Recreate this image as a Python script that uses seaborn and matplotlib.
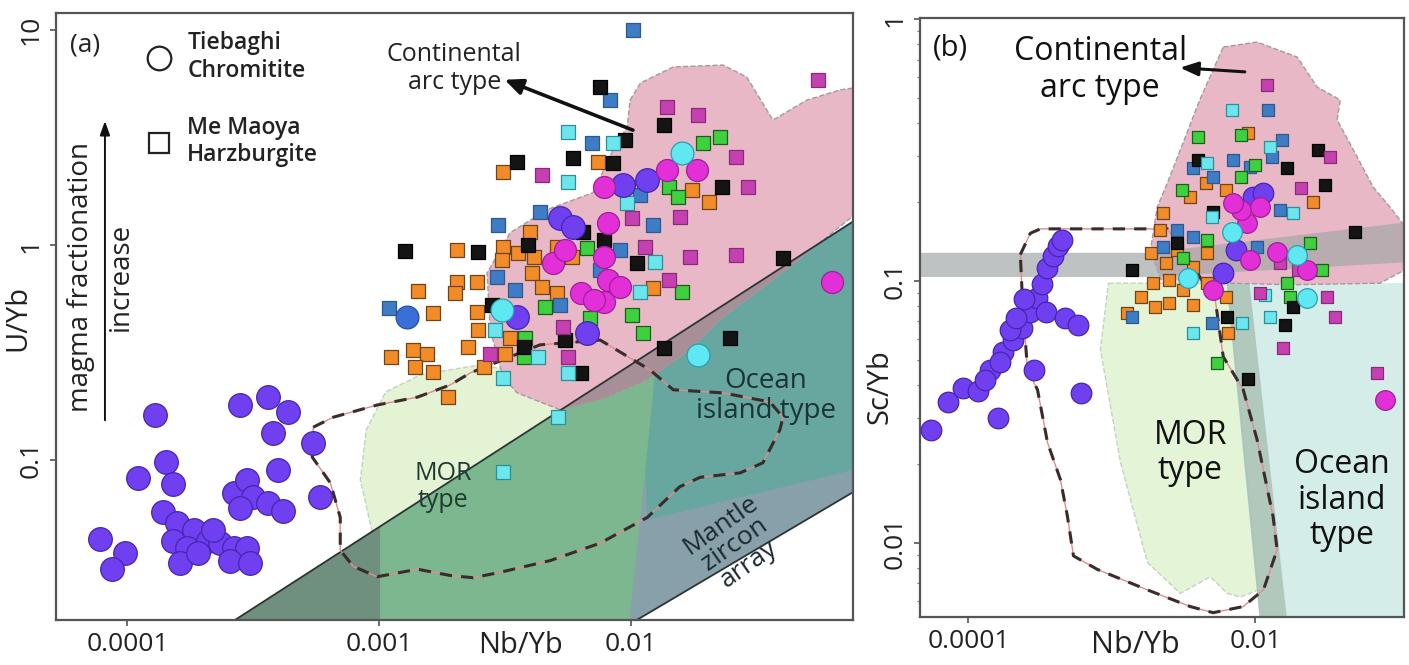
import numpy as np
import pandas as pd
import matplotlib
matplotlib.use("Agg")
import matplotlib.pyplot as plt
from matplotlib.patches import Polygon
from matplotlib.lines import Line2D
import seaborn as sns

sns.set_theme(style="white")
plt.rcParams["font.family"] = ["Open Sans", "DejaVu Sans"]

# ------------------------------------------------------------------
# (a) U/Yb vs Nb/Yb
# ------------------------------------------------------------------
a_purple_nb = [1.29e-4, 2.81e-4, 3.63e-4, 4.35e-4, 3.80e-4, 5.47e-4, 1.42e-4, 1.10e-4, 1.51e-4,
               3.97e-4, 5.83e-4, 2.64e-4, 2.99e-4, 3.16e-4, 2.81e-4, 3.60e-4, 4.16e-4, 1.39e-4,
               1.58e-4, 1.83e-4, 1.52e-4, 1.73e-4, 2.08e-4, 2.34e-4, 2.64e-4, 2.99e-4, 2.56e-4,
               3.08e-4, 1.62e-4, 1.90e-4, 7.8e-5, 9.8e-5, 8.7e-5, 2.19e-4,
               5.2e-3, 9.3e-3, 6.7e-3, 3.52e-3, 1.16e-2, 5.9e-3]
a_purple_u = [0.162, 0.180, 0.196, 0.167, 0.134, 0.120, 0.098, 0.082, 0.077,
              0.090, 0.067, 0.070, 0.081, 0.067, 0.060, 0.063, 0.058, 0.057,
              0.051, 0.047, 0.042, 0.039, 0.042, 0.041, 0.039, 0.039, 0.034,
              0.033, 0.033, 0.037, 0.043, 0.037, 0.031, 0.047,
              1.34, 1.90, 0.39, 0.46, 2.0, 1.21]

a_bluec_nb = [1.29e-3]
a_bluec_u = [0.46]

a_black_nb = [1.27e-3, 2.47e-3, 3.52e-3, 5.9e-3, 9.45e-3, 8.5e-3, 6.45e-3, 7.8e-3, 1.06e-2, 5.45e-3,
              6.3e-3, 3.74e-3, 2.8e-3, 3.9e-3, 7.5e-3, 1.35e-2, 2.30e-2, 4.0e-2, 1.35e-2, 2.47e-2]
a_black_u = [0.94, 0.93, 2.42, 2.53, 3.08, 2.40, 1.15, 1.05, 0.825, 0.36,
             0.254, 0.336, 0.526, 1.0, 5.43, 3.61, 1.86, 0.87, 0.33, 0.37]

a_orange_nb = [3.1e-3, 7.4e-3, 2.04e-3, 3.1e-3, 3.07e-3, 3.55e-3, 4.1e-3, 4.05e-3, 5.07e-3, 5.85e-3,
               4.44e-3, 5.1e-3, 3.97e-3, 1.43e-3, 2.04e-3, 2.44e-3, 2.0e-3, 1.64e-3, 2.44e-3, 2.47e-3,
               2.25e-3, 3.31e-3, 3.15e-3, 1.11e-3, 1.36e-3, 1.55e-3, 1.39e-3, 1.64e-3, 2.6e-3, 1.88e-3,
               1.22e-2, 1.75e-2, 2.04e-2]
a_orange_u = [2.18, 2.43, 0.95, 0.98, 0.85, 0.92, 0.88, 0.74, 0.98, 0.88,
              0.64, 0.60, 1.15, 0.61, 0.67, 0.67, 0.60, 0.48, 0.49, 0.40,
              0.336, 0.37, 0.31, 0.30, 0.325, 0.31, 0.27, 0.256, 0.27, 0.197,
              0.63, 1.80, 1.58]

a_blue_nb = [1.02e-2, 8.25e-3, 7.0e-3, 2.96e-3, 4.35e-3, 2.93e-3, 1.09e-3, 1.22e-2, 1.09e-2,
             3.45e-3, 5.2e-3, 7.55e-3, 9.0e-3]
a_blue_u = [10.0, 4.72, 2.98, 1.24, 1.42, 0.71, 0.51, 1.24, 1.71, 0.62, 0.526, 0.765, 0.95]

a_cyan_nb = [5.6e-3, 5.6e-3, 2.88e-3, 4.27e-3, 5.6e-3, 3.1e-3, 5.12e-3, 3.1e-3, 1.09e-2, 1.25e-2,
             9.6e-3, 8.5e-3]
a_cyan_u = [3.36, 1.96, 0.40, 0.30, 0.254, 0.24, 0.158, 0.088, 0.605, 0.83, 1.57, 2.98]

a_cyanc_nb = [3.07e-3, 1.6e-2, 1.84e-2]
a_cyanc_u = [0.50, 2.68, 0.308]

a_green_nb = [6.7e-3, 4.57e-3, 6.85e-3, 3.8e-3, 3.74e-3, 1.01e-2, 1.12e-2, 1.93e-2, 2.26e-2,
              1.42e-2, 1.54e-2, 1.6e-2, 8.25e-3]
a_green_u = [0.97, 0.515, 0.457, 0.37, 0.30, 0.472, 0.39, 2.98, 3.18, 1.86, 1.67, 0.605, 0.69]

a_mag_nb = [4.44e-3, 1.01e-2, 1.14e-2, 5.37e-3, 5.6e-3, 2.75e-3, 5.5e-2, 1.39e-2, 1.84e-2,
            2.6e-2, 2.9e-2, 1.72e-2, 2.62e-2, 1.56e-2, 1.42e-2]
a_mag_u = [2.12, 1.34, 0.98, 0.415, 0.30, 0.31, 5.85, 4.38, 4.02, 2.57, 1.86, 0.88, 0.90, 1.35, 0.69]

a_magc_nb = [7.8e-3, 8.1e-3, 4.9e-3, 7.8e-3, 6.3e-3, 8.1e-3, 7.8e-3, 9.0e-3, 7.1e-3, 1.83e-2,
             1.39e-2, 6.3e-2, 5.45e-3]
a_magc_u = [1.86, 1.27, 0.825, 0.88, 0.60, 0.69, 0.54, 0.64, 0.555, 2.23, 2.23, 0.67, 0.95]

# field outlines for (a), as (Nb/Yb, U/Yb) vertices
a_zircon_band = [(2.1e-4, 0.015), (0.1, 1.58), (0.1, 0.0855), (8.1e-3, 0.015)]
a_band_left = [(4e-5, 0.012), (1.01e-3, 0.012), (1.01e-3, 0.8), (4e-5, 0.8)]
a_band_mor = [(1.01e-3, 0.0146), (1.01e-3, 0.065), (1.33e-2, 0.555), (1.33e-2, 0.19),
              (1.14e-2, 0.090), (9.65e-3, 0.0146)]
a_band_oib = [(1.33e-2, 0.555), (0.0826, 1.62), (0.0826, 0.0918), (1.16e-2, 0.0526), (1.14e-2, 0.090)]
a_mor_field = [(9.37e-4, 0.0462), (8.41e-4, 0.0807), (8.88e-4, 0.138), (1.06e-3, 0.207),
               (1.46e-3, 0.249), (2.52e-3, 0.277), (5.23e-3, 0.236), (7.54e-3, 0.138),
               (7.54e-3, 0.015), (9.37e-4, 0.015)]
a_arc_field = [(9.91e-3, 4.72), (1.09e-2, 5.67), (1.47e-2, 6.73), (2.32e-2, 6.87), (2.88e-2, 6.04),
               (3.66e-2, 3.81), (4.99e-2, 4.72), (6.75e-2, 5.26), (8.1e-2, 5.43), (8.1e-2, 1.46),
               (7.53e-2, 1.35), (4.27e-2, 0.79), (2.25e-2, 0.448), (1.71e-2, 0.325),
               (1.16e-2, 0.236), (8.03e-3, 0.196), (5.23e-3, 0.171), (3.53e-3, 0.205),
               (3.10e-3, 0.243), (2.76e-3, 0.402), (2.68e-3, 0.741), (3.31e-3, 1.14),
               (4.64e-3, 1.46), (7.06e-3, 1.75), (8.49e-3, 2.77), (9.65e-3, 3.54)]
a_dashed_field = [(5.47e-4, 0.142), (6.57e-4, 0.158), (9.8e-4, 0.180), (1.42e-3, 0.196),
                  (1.91e-3, 0.223), (2.30e-3, 0.254), (4.35e-3, 0.343), (7.54e-3, 0.361),
                  (1.19e-2, 0.262), (1.47e-2, 0.212), (2.32e-2, 0.205), (3.56e-2, 0.186),
                  (4.01e-2, 0.158), (3.90e-2, 0.138), (3.34e-2, 0.097), (2.71e-2, 0.087),
                  (1.88e-2, 0.083), (1.56e-2, 0.075), (1.16e-2, 0.054), (7.54e-3, 0.041),
                  (4.77e-3, 0.034), (3.02e-3, 0.030), (2.36e-3, 0.0283), (1.91e-3, 0.029),
                  (1.42e-3, 0.031), (9.8e-4, 0.0286), (7.88e-4, 0.032), (7.0e-4, 0.038),
                  (7.0e-4, 0.054), (6.4e-4, 0.078), (5.42e-4, 0.103)]

# ------------------------------------------------------------------
# (b) Sc/Yb vs Nb/Yb
# ------------------------------------------------------------------
b_purple_nb = [5.45e-5, 7.26e-5, 9.2e-5, 1.17e-4, 1.42e-4, 1.75e-4, 2.06e-4, 2.38e-4, 2.7e-4,
               3.03e-4, 3.28e-4, 3.55e-4, 3.9e-4, 4.23e-4, 4.5e-4, 3.45e-4, 4.72e-4, 5.83e-4,
               6.05e-4, 1.6e-4, 2.85e-4, 1.96e-4, 1.67e-4, 1.3e-4, 2.45e-4, 2.13e-4,
               9.7e-3, 1.14e-2, 6.0e-3, 7.3e-3]
b_purple_sc = [0.0269, 0.0345, 0.039, 0.0378, 0.0457, 0.0535, 0.0595, 0.0662, 0.076,
               0.0862, 0.0975, 0.112, 0.124, 0.136, 0.143, 0.076, 0.072, 0.068,
               0.0374, 0.030, 0.0457, 0.065, 0.049, 0.0418, 0.085, 0.072,
               0.209, 0.217, 0.107, 0.131]

b_mag_nb = [1.21e-2, 3.33e-2, 2.1e-2, 3.16e-2, 3.6e-2, 1.56e-2, 7.1e-2, 1.08e-2, 1.49e-2, 1.99e-2]
b_mag_sc = [0.56, 0.297, 0.226, 0.087, 0.073, 0.0555, 0.0446, 0.090, 0.117, 0.110]

b_magc_nb = [8.0e-2, 8.8e-3, 7.9e-3, 9.2e-3, 1.08e-2, 7.0e-3, 1.42e-2, 2.3e-2, 5.1e-3]
b_magc_sc = [0.0352, 0.167, 0.187, 0.12, 0.191, 0.199, 0.129, 0.110, 0.0925]

b_black_nb = [2.75e-2, 3.07e-2, 1.67e-2, 4.97e-2, 4.0e-3, 5.1e-3, 1.39e-3, 6.4e-3, 1.62e-2,
              8.9e-3, 2.86e-3, 1.84e-2]
b_black_sc = [0.316, 0.232, 0.27, 0.154, 0.29, 0.183, 0.110, 0.073, 0.068, 0.042, 0.140, 0.0796]

b_blue_nb = [1.23e-2, 1.54e-2, 7.0e-3, 3.65e-3, 9.2e-3, 1.31e-2, 2.86e-3, 5.1e-3, 1.39e-3,
             5.0e-3, 1.49e-2, 3.65e-3, 1.03e-2, 2.27e-3]
b_blue_sc = [0.45, 0.345, 0.29, 0.27, 0.272, 0.297, 0.157, 0.249, 0.073, 0.069, 0.187, 0.147,
             0.135, 0.135]

b_cyan_nb = [6.9e-3, 1.27e-2, 4.6e-3, 3.65e-3, 1.27e-2, 8.1e-3, 1.84e-2, 5.0e-3, 1.49e-2, 1.17e-2]
b_cyan_sc = [0.45, 0.325, 0.282, 0.063, 0.073, 0.069, 0.182, 0.175, 0.118, 0.0885]

b_cyanc_nb = [6.9e-3, 1.96e-2, 2.3e-2, 3.4e-3]
b_cyanc_sc = [0.154, 0.126, 0.086, 0.103]

b_green_nb = [4.0e-3, 7.9e-3, 1.0e-2, 3.1e-3, 7.9e-3, 2.4e-2, 2.93e-2, 1.75e-2, 5.4e-3, 4.6e-3,
              3.15e-3, 1.67e-2]
b_green_sc = [0.355, 0.36, 0.277, 0.222, 0.249, 0.140, 0.110, 0.087, 0.0487, 0.143, 0.122, 0.098]

b_orange_nb = [8.9e-3, 4.5e-3, 3.5e-3, 6.2e-3, 2.27e-3, 2.53e-2, 1.86e-3, 2.4e-3, 1.59e-3, 1.93e-3,
               2.5e-3, 3.15e-3, 3.7e-3, 2.0e-3, 2.5e-3, 1.28e-3, 3.65e-3, 4.6e-3, 6.2e-3, 6.5e-3,
               2.86e-3, 4.6e-3, 2.15e-3]
b_orange_sc = [0.367, 0.237, 0.209, 0.222, 0.182, 0.20, 0.128, 0.117, 0.087, 0.098,
               0.101, 0.0925, 0.113, 0.0796, 0.0824, 0.0755, 0.081, 0.098, 0.087, 0.063,
               0.131, 0.128, 0.157]

# field outlines for (b), as (Nb/Yb, Sc/Yb) vertices
b_arc_field = [(5.98e-3, 0.782), (1.03e-2, 0.817), (1.96e-2, 0.716), (2.7e-2, 0.55), (3.91e-2, 0.491),
               (3.72e-2, 0.412), (5.14e-2, 0.297), (6.64e-2, 0.228), (8.72e-2, 0.191), (0.12, 0.152),
               (0.12, 0.113), (7.43e-2, 0.098), (1.75e-2, 0.0966), (6.6e-3, 0.098), (2.2e-3, 0.101),
               (1.86e-3, 0.131), (2.07e-3, 0.191), (2.44e-3, 0.237), (3.0e-3, 0.316), (4.1e-3, 0.491)]
b_mor_field = [(9.46e-4, 0.098), (6.48e-3, 0.098), (1.05e-2, 0.0066), (7.86e-3, 0.0062),
               (6.38e-3, 0.0064), (4.86e-3, 0.0074), (3.0e-3, 0.0064), (1.77e-3, 0.0084),
               (1.15e-3, 0.0202), (8.32e-4, 0.0546)]
b_oib_field = [(9.1e-3, 0.098), (0.12, 0.098), (0.12, 0.004), (1.75e-2, 0.004)]
b_vband = [(6.3e-3, 0.098), (9.1e-3, 0.098), (1.75e-2, 0.004), (1.12e-2, 0.004)]
b_hband = [(4e-5, 0.128), (1.86e-3, 0.128), (0.12, 0.168), (0.12, 0.118), (1.86e-3, 0.1035),
           (4e-5, 0.1035)]
b_dashed_field = [(2.30e-4, 0.126), (2.70e-4, 0.152), (3.18e-4, 0.158), (2.44e-3, 0.158),
                  (5.26e-3, 0.0846), (5.98e-3, 0.0513), (8.24e-3, 0.0384), (1.03e-2, 0.0247),
                  (1.33e-2, 0.0126), (1.42e-2, 0.0094), (1.14e-2, 0.0066), (8.24e-3, 0.0057),
                  (5.09e-3, 0.0054), (3.52e-3, 0.0057), (1.77e-3, 0.0066), (7.93e-4, 0.0079),
                  (5.40e-4, 0.0089), (4.90e-4, 0.0126), (4.38e-4, 0.0174), (3.56e-4, 0.0241),
                  (3.03e-4, 0.0384), (2.58e-4, 0.0457), (2.38e-4, 0.0846)]

# ------------------------------------------------------------------
# colours
# ------------------------------------------------------------------
C_ORANGE, E_ORANGE = "#f28c28", "#6e4418"
C_BLACK, E_BLACK = "#141414", "#000000"
C_BLUE, E_BLUE = "#3f7cc6", "#2c5a8c"
C_CYAN, E_CYAN = "#6be6ec", "#2a8f98"
C_GREEN, E_GREEN = "#3fd03f", "#1d5e1d"
C_MAG, E_MAG = "#c540b0", "#8a2a7a"
C_MAGC, E_MAGC = "#e22fd8", "#a01f98"
C_PURPLE, E_PURPLE = "#6f3ff0", "#4526b0"
C_CYANC, E_CYANC = "#5fe8f2", "#2a9fb0"
C_BLUEC, E_BLUEC = "#3a6fd8", "#2a4f9a"

PINK = "#e8b8c7"
PALE_GREEN = "#e4f3d3"


def region(ax, verts, **kw):
    p = Polygon(np.asarray(verts, dtype=float), closed=True, **kw)
    ax.add_patch(p)
    return p


def dashed_outline(ax, verts):
    v = np.asarray(verts + [verts[0]], dtype=float)
    ax.plot(v[:, 0], v[:, 1], color="#e08c8c", lw=1.0, zorder=2.0)
    ax.plot(v[:, 0], v[:, 1], color="#3a2c2c", lw=2.2, ls=(0, (4, 3)), zorder=2.1)


def series(ax, nb, y, marker, s, face, edge, z, lw=0.9):
    df = pd.DataFrame({"nb": nb, "y": y})
    sns.scatterplot(data=df, x="nb", y="y", ax=ax, marker=marker, s=s, color=face,
                    edgecolor=edge, linewidth=lw, legend=False, zorder=z)


fig = plt.figure(figsize=(14.09, 6.65), dpi=100)
ax_a = fig.add_axes([0.0397, 0.0677, 0.5656, 0.9128])
ax_b = fig.add_axes([0.6530, 0.0722, 0.3435, 0.9008])

for ax in (ax_a, ax_b):
    ax.set_xscale("log")
    ax.set_yscale("log")
    ax.set_facecolor("white")

# ---------------- panel (a) fields ----------------
region(ax_a, a_mor_field, fc=PALE_GREEN, ec="#c8cfc4", lw=1.0, ls="--", zorder=1.0)
band = region(ax_a, a_zircon_band, fc="#87a0aa", ec="none", zorder=1.2)
for verts, col in ((a_band_left, "#70907f"), (a_band_mor, "#7db78f"), (a_band_oib, "#68a6a0")):
    p = region(ax_a, verts, fc=col, ec="none", zorder=1.3)
    p.set_clip_path(band)
region(ax_a, a_arc_field, fc=PINK, ec="#a39a9e", lw=1.0, ls="--", zorder=1.5)
ov = region(ax_a, a_arc_field, fc="#a68f96", ec="none", zorder=1.6)
ov.set_clip_path(band)
bv = np.asarray(a_zircon_band)
ax_a.plot(bv[:2, 0], bv[:2, 1], color="#2b3535", lw=1.3, zorder=1.8)
ax_a.plot(bv[2:, 0], bv[2:, 1], color="#2b3535", lw=1.3, zorder=1.8)
dashed_outline(ax_a, a_dashed_field)

# ---------------- panel (a) samples ----------------
SQ_A, SQ_B = 115, 80
series(ax_a, a_orange_nb, a_orange_u, "s", SQ_A, C_ORANGE, E_ORANGE, 3.0)
series(ax_a, a_blue_nb, a_blue_u, "s", SQ_A, C_BLUE, E_BLUE, 3.1)
series(ax_a, a_green_nb, a_green_u, "s", SQ_A, C_GREEN, E_GREEN, 3.2)
series(ax_a, a_black_nb, a_black_u, "s", SQ_A, C_BLACK, E_BLACK, 3.3)
series(ax_a, a_cyan_nb, a_cyan_u, "s", SQ_A, C_CYAN, E_CYAN, 3.4)
series(ax_a, a_mag_nb, a_mag_u, "s", SQ_A, C_MAG, E_MAG, 3.5)
series(ax_a, a_purple_nb, a_purple_u, "o", 290, C_PURPLE, E_PURPLE, 3.6)
series(ax_a, a_magc_nb, a_magc_u, "o", 250, C_MAGC, E_MAGC, 3.7)
series(ax_a, a_cyanc_nb, a_cyanc_u, "o", 270, C_CYANC, E_CYANC, 3.8)
series(ax_a, a_bluec_nb, a_bluec_u, "o", 270, C_BLUEC, E_BLUEC, 3.8)

ax_a.set_xlim(5.2e-5, 0.076)
ax_a.set_ylim(0.018, 12.0)
ax_a.set_xticks([1e-4, 1e-3, 1e-2])
ax_a.set_xticklabels(["0.0001", "0.001", "0.01"])
ax_a.set_yticks([0.1, 1, 10])
ax_a.set_yticklabels(["0.1", "1", "10"])
ax_a.minorticks_off()
ax_a.set_xlabel("Nb/Yb", fontsize=21)
ax_a.set_ylabel("U/Yb", fontsize=21)
ax_a.xaxis.set_label_coords(0.583, -0.018)
ax_a.yaxis.set_label_coords(-0.030, 0.4975)

txt = dict(transform=ax_a.transAxes, ha="center", va="center", zorder=6)
ax_a.text(0.036, 0.948, "(a)", fontsize=19, color="#222222", **txt)
ax_a.text(0.500, 0.909, "Continental\narc type", fontsize=18, color="#222222",
          linespacing=1.15, **txt)
ax_a.annotate("", xy=(0.563, 0.890), xytext=(0.724, 0.807), xycoords="axes fraction",
              arrowprops=dict(arrowstyle="-|>,head_length=0.9,head_width=0.4", lw=2.6,
                              color="#111111", shrinkA=0, shrinkB=0), zorder=6)
ax_a.text(0.486, 0.219, "MOR\ntype", fontsize=18, color="#1f3b32", linespacing=1.1, **txt)
ax_a.text(0.891, 0.369, "Ocean\nisland type", fontsize=20, color="#1b3434",
          linespacing=1.05, **txt)
ax_a.text(0.852, 0.124, "Mantle\nzircon\narray", fontsize=19, color="#1c2a30", rotation=35,
          linespacing=0.95, **txt)
ax_a.text(0.031, 0.565, "magma fractionation", fontsize=20, rotation=90, color="#222222", **txt)
ax_a.text(0.081, 0.565, "increase", fontsize=20, rotation=90, color="#222222", **txt)
ax_a.annotate("", xy=(0.0615, 0.822), xytext=(0.0615, 0.329), xycoords="axes fraction",
              arrowprops=dict(arrowstyle="-|>,head_length=0.7,head_width=0.25", lw=1.4,
                              color="#111111", shrinkA=0, shrinkB=0), zorder=6)

handles = [Line2D([], [], marker="o", ls="none", mfc="none", mec="#222222", ms=17, mew=1.6),
           Line2D([], [], marker="s", ls="none", mfc="none", mec="#222222", ms=14, mew=1.6)]
leg = ax_a.legend(handles, ["Tiebaghi\nChromitite", "Me Maoya\nHarzburgite"],
                  loc="upper left", bbox_to_anchor=(0.10, 0.978), frameon=False,
                  fontsize=16.5, labelspacing=1.45, handletextpad=0.45, borderaxespad=0,
                  borderpad=0.2, handlelength=1.6)
for t in leg.get_texts():
    t.set_color("#222222")
    t.set_fontweight("semibold")

# ---------------- panel (b) fields ----------------
region(ax_b, b_mor_field, fc="#e3f5d6", ec="#c9cfc6", lw=1.0, ls="--", zorder=1.0)
region(ax_b, b_oib_field, fc="#d4ede9", ec="none", zorder=1.0)
region(ax_b, b_vband, fc="#a9c3b6", ec="none", alpha=0.9, zorder=1.2)
region(ax_b, b_arc_field, fc=PINK, ec="#a39a9e", lw=1.0, ls="--", zorder=1.4)
region(ax_b, b_hband, fc="#a4a8a8", ec="none", alpha=0.7, zorder=1.5)
dashed_outline(ax_b, b_dashed_field)

# ---------------- panel (b) samples ----------------
series(ax_b, b_orange_nb, b_orange_sc, "s", SQ_B, C_ORANGE, E_ORANGE, 3.0)
series(ax_b, b_blue_nb, b_blue_sc, "s", SQ_B, C_BLUE, E_BLUE, 3.1)
series(ax_b, b_green_nb, b_green_sc, "s", SQ_B, C_GREEN, E_GREEN, 3.2)
series(ax_b, b_black_nb, b_black_sc, "s", SQ_B, C_BLACK, E_BLACK, 3.3)
series(ax_b, b_cyan_nb, b_cyan_sc, "s", SQ_B, C_CYAN, E_CYAN, 3.4)
series(ax_b, b_mag_nb, b_mag_sc, "s", SQ_B, C_MAG, E_MAG, 3.5)
series(ax_b, b_purple_nb, b_purple_sc, "o", 220, C_PURPLE, E_PURPLE, 3.6)
series(ax_b, b_magc_nb, b_magc_sc, "o", 200, C_MAGC, E_MAGC, 3.7)
series(ax_b, b_cyanc_nb, b_cyanc_sc, "o", 200, C_CYANC, E_CYANC, 3.8)

ax_b.set_xlim(4.6e-5, 0.109)
ax_b.set_ylim(0.0052, 1.01)
ax_b.set_xticks([1e-4, 1e-2])
ax_b.set_xticklabels(["0.0001", "0.01"])
ax_b.xaxis.set_minor_locator(matplotlib.ticker.NullLocator())
ax_b.set_yticks([0.01, 0.1, 1])
ax_b.set_yticklabels(["0.01", "0.1", "1"])
ax_b.set_xlabel("Nb/Yb", fontsize=22)
ax_b.set_ylabel("Sc/Yb", fontsize=21)
ax_b.xaxis.set_label_coords(0.444, -0.022)
ax_b.yaxis.set_label_coords(-0.052, 0.384)

txtb = dict(transform=ax_b.transAxes, ha="center", va="center", zorder=6, color="#111111")
ax_b.text(0.062, 0.950, "(b)", fontsize=21, **txtb)
ax_b.text(0.372, 0.913, "Continental\narc type", fontsize=23, linespacing=1.15, **txtb)
ax_b.annotate("", xy=(0.537, 0.917), xytext=(0.671, 0.910), xycoords="axes fraction",
              arrowprops=dict(arrowstyle="-|>,head_length=0.9,head_width=0.35", lw=2.2,
                              color="#111111", shrinkA=0, shrinkB=0), zorder=6)
ax_b.text(0.558, 0.274, "MOR\ntype", fontsize=23, linespacing=1.1, **txtb)
ax_b.text(0.872, 0.195, "Ocean\nisland\ntype", fontsize=23, linespacing=1.1, **txtb)

for ax in (ax_a, ax_b):
    for sp in ax.spines.values():
        sp.set_visible(True)
        sp.set_color("#555555")
        sp.set_linewidth(1.6)
    ax.tick_params(axis="both", which="major", direction="out", length=4, width=1.2,
                   color="#555555", labelsize=19, labelcolor="#222222", pad=5,
                   bottom=True, left=True)
    ax.tick_params(axis="y", which="both", labelrotation=90)
    for lab in ax.get_yticklabels():
        lab.set_va("center")
    ax.xaxis.label.set_color("#222222")
    ax.yaxis.label.set_color("#222222")

ax_b.tick_params(axis="y", which="minor", direction="out", length=2.5, width=0.8,
                 color="#777777", left=True)

fig.savefig("out.png", dpi=100)
